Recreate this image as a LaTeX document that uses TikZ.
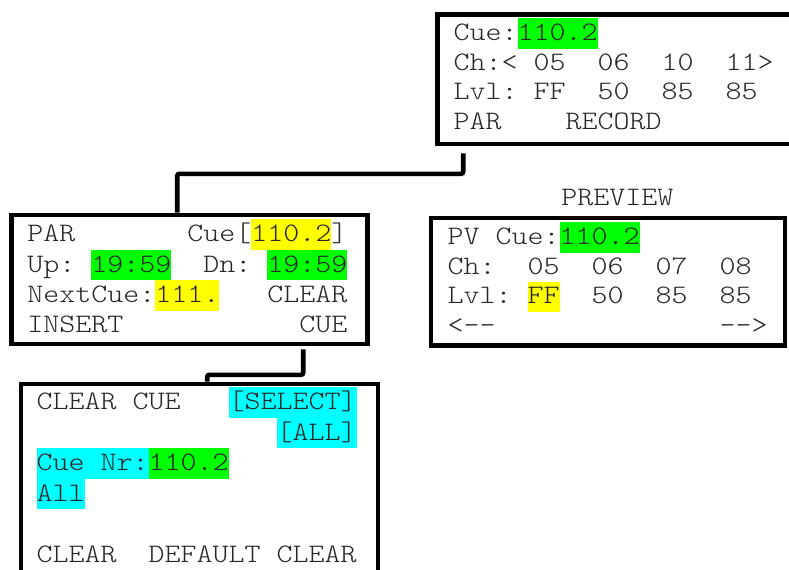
\documentclass[tikz,border=0pt]{standalone}
\usepackage{fontspec}
\setmonofont{Latin Modern Mono Light}[FakeStretch=1.1429]
\usetikzlibrary{fit}
\definecolor{hlgreen}{HTML}{00FF00}
\definecolor{hlyellow}{HTML}{FFFF00}
\definecolor{hlcyan}{HTML}{00FFFF}
\newcommand\hl[2]{{\setlength{\fboxsep}{0pt}\colorbox{#1}{\rule[-6pt]{0pt}{22.66pt}#2}}}
\begin{document}
\begin{tikzpicture}[x=0.75pt,y=-0.75pt,
  box/.style={draw=black,line width=3.4pt,inner sep=0pt},
  conn/.style={draw=black,line width=3.4pt,rounded corners=1.5pt},
  txt/.style={anchor=base west,inner sep=0pt,text=black!85,font=\ttfamily\fontsize{20pt}{24pt}\selectfont\frenchspacing}]
\useasboundingbox (0,0) rectangle (789,569);
\clip (0,0) rectangle (789,569);
% boxes
\node[box,fit={(437.5,14.5) (805,144)}] (b1) {};
\node[box,fit={(11.5,215) (367.5,344)}] (b2) {};
\node[box,fit={(431,218) (785,345.5)}] (b4) {};
\node[box,fit={(21,384) (378,600)}] (b3) {};
% connectors
\draw[conn] ([shift={(28,7)}]b1.south west) -- ++(0,20.5) -| ([shift={(168,0)}]b2.north west);
\draw[conn] ([shift={(294,3)}]b2.south west) -- ++(0,25.5) -| ([shift={(188.5,0)}]b3.north west);
% box 1
\node[txt] (t1a) at (453.3,40.5) {Cue:\hl{hlgreen}{110.2}};
\node[txt] (t1b) at (453.3,70.2) {Ch:<~05~~06~~10~~11>};
\node[txt] (t1c) at (453.3,99.9) {Lvl:~FF~~50~~85~~85};
\node[txt] (t1d) at (453.3,129.6) {PAR~~~~RECORD};
% box 2
\node[txt] (t2a) at (27,241.7) {PAR~~~~~~~Cue[\hl{hlyellow}{110.2}]};
\node[txt] (t2b) at (27,272.1) {Up:~\hl{hlgreen}{19:59}~~Dn:~\hl{hlgreen}{19:59}};
\node[txt] (t2c) at (27,302.5) {NextCue:\hl{hlyellow}{111.}~~~CLEAR};
\node[txt] (t2d) at (27,332.9) {INSERT~~~~~~~~~~~CUE};
% preview
\node[txt] (pv) at (561,205) {PREVIEW};
\node[txt] (t4a) at (447.3,244.5) {PV~Cue:\hl{hlgreen}{110.2}};
\node[txt] (t4b) at (447.3,274.2) {Ch:~~05~~06~~07~~08};
\node[txt] (t4c) at (447.3,303.9) {Lvl:~\hl{hlyellow}{FF}~~50~~85~~85};
\node[txt] (t4d) at (447.3,333.6) {<--~~~~~~~~~~~~~~-->};
% box 3
\node[txt] (t3a) at (36.3,409.5) {CLEAR~CUE~~~\hl{hlcyan}{[SELECT]}};
\node[txt] (t3b) at (276.3,440) {\hl{hlcyan}{[ALL]}};
\node[txt] (t3c) at (36.3,470.5) {\hl{hlcyan}{Cue~Nr:}\hl{hlgreen}{110.2}};
\node[txt] (t3d) at (36.3,501) {\hl{hlcyan}{All}};
\node[txt] (t3e) at (36.3,562) {CLEAR~~DEFAULT~CLEAR};
\end{tikzpicture}
\end{document}
